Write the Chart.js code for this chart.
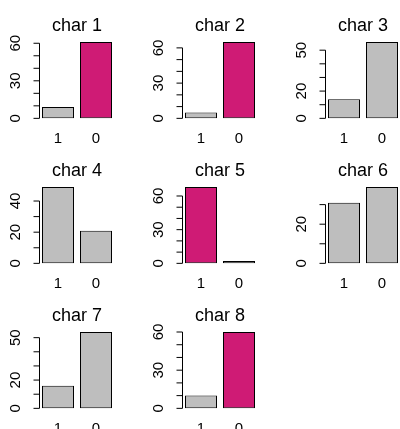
<!DOCTYPE html>
<html>
<head>
<meta charset="utf-8">
<script src="https://cdn.jsdelivr.net/npm/chart.js@4"></script>
<style>
  html, body { margin: 0; padding: 0; background: #fff; }
  #wrap { position: relative; width: 400px; height: 429px; overflow: hidden; background: #fff; }
  #wrap canvas { position: absolute; left: 0; top: 0; }
</style>
</head>
<body>
<div id="wrap"></div>
<script>
// values
const categories = ["1", "0"];
const titles = ["char 1", "char 2", "char 3", "char 4", "char 5", "char 6", "char 7", "char 8"];
const countsOne = [9, 5, 14, 49, 68, 31, 16, 10];
const countsZero = [61, 65, 56, 21, 2, 39, 54, 60];
const highlighted = [1, 1, -1, -1, 0, -1, -1, 1]; // which bar is pink, -1 none
const axisTops = [60, 60, 50, 40, 60, 30, 50, 60];
const tickLabels = [[0, 30, 60], [0, 30, 60], [0, 20, 50], [0, 20, 40], [0, 30, 60], [0, 20], [0, 20, 50], [0, 30, 60]];
const tickStep = 10;

const GREY = "#BEBEBE";
const PINK = "#CF1B75";
const FONT = "'Liberation Sans', Arial, Helvetica, sans-serif";

// grid of the panels (whole pixels so the 1px bar borders stay sharp)
const colStep = 143, rowStep = 145;
const left0 = 39, top0 = 38.95;
const plotW = 76, plotH = 82.45;
const canvasSize = 440;

const rAxes = {
    id: "rAxes",
    afterDraw(chart, args, opts) {
        const ctx = chart.ctx;
        const area = chart.chartArea;
        const y = chart.scales.y;
        const x = chart.scales.x;
        const i = opts.index;

        ctx.save();
        ctx.fillStyle = "#000";
        ctx.strokeStyle = "#000";
        ctx.lineWidth = 1;

        // title
        ctx.font = "18px " + FONT;
        ctx.textAlign = "center";
        ctx.textBaseline = "alphabetic";
        ctx.fillText(titles[i], (area.left + area.right) / 2, area.top - 7.5);

        // y axis, R style
        const ax = Math.round(area.left) + 0.5;
        const y0 = y.getPixelForValue(0);
        const yTop = y.getPixelForValue(axisTops[i]);
        ctx.beginPath();
        ctx.moveTo(ax, y0);
        ctx.lineTo(ax, yTop);
        for (let v = 0; v <= axisTops[i]; v += tickStep) {
            const py = y.getPixelForValue(v);
            ctx.moveTo(ax, py);
            ctx.lineTo(ax - 6, py);
        }
        ctx.stroke();

        ctx.font = "15px " + FONT;
        tickLabels[i].forEach(function (v) {
            const py = y.getPixelForValue(v);
            ctx.save();
            ctx.translate(ax - 19.1, py);
            ctx.rotate(-Math.PI / 2);
            ctx.textAlign = "center";
            ctx.textBaseline = "alphabetic";
            ctx.fillText(String(v), 0, 0);
            ctx.restore();
        });

        // category labels
        ctx.textAlign = "center";
        categories.forEach(function (c, j) {
            ctx.fillText(c, x.getPixelForValue(j), area.bottom + 22);
        });

        ctx.restore();
    }
};

const wrap = document.getElementById("wrap");

titles.forEach(function (t, i) {
    const canvas = document.createElement("canvas");
    canvas.width = canvasSize;
    canvas.height = canvasSize;
    wrap.appendChild(canvas);

    const col = i % 3;
    const row = Math.floor(i / 3);
    const left = left0 + col * colStep;
    const top = top0 + row * rowStep;
    const ymax = Math.max(countsOne[i], countsZero[i]);
    const colors = categories.map(function (c, j) { return highlighted[i] === j ? PINK : GREY; });

    new Chart(canvas, {
        type: "bar",
        data: {
            labels: categories,
            datasets: [{
                data: [countsOne[i], countsZero[i]],
                backgroundColor: colors,
                borderColor: "#000",
                borderWidth: 1,
                borderSkipped: false,
                barPercentage: 32 / 38,
                categoryPercentage: 1
            }]
        },
        options: {
            responsive: false,
            animation: false,
            events: [],
            layout: {
                padding: {
                    left: left,
                    top: top,
                    right: canvasSize - left - plotW,
                    bottom: canvasSize - top - plotH
                }
            },
            plugins: {
                legend: { display: false },
                tooltip: { enabled: false },
                title: { display: false },
                rAxes: { index: i }
            },
            scales: {
                x: { display: false, offset: true },
                y: { display: false, min: -0.04 * ymax, max: 1.04 * ymax }
            }
        },
        plugins: [rAxes]
    });
});
</script>
</body>
</html>
